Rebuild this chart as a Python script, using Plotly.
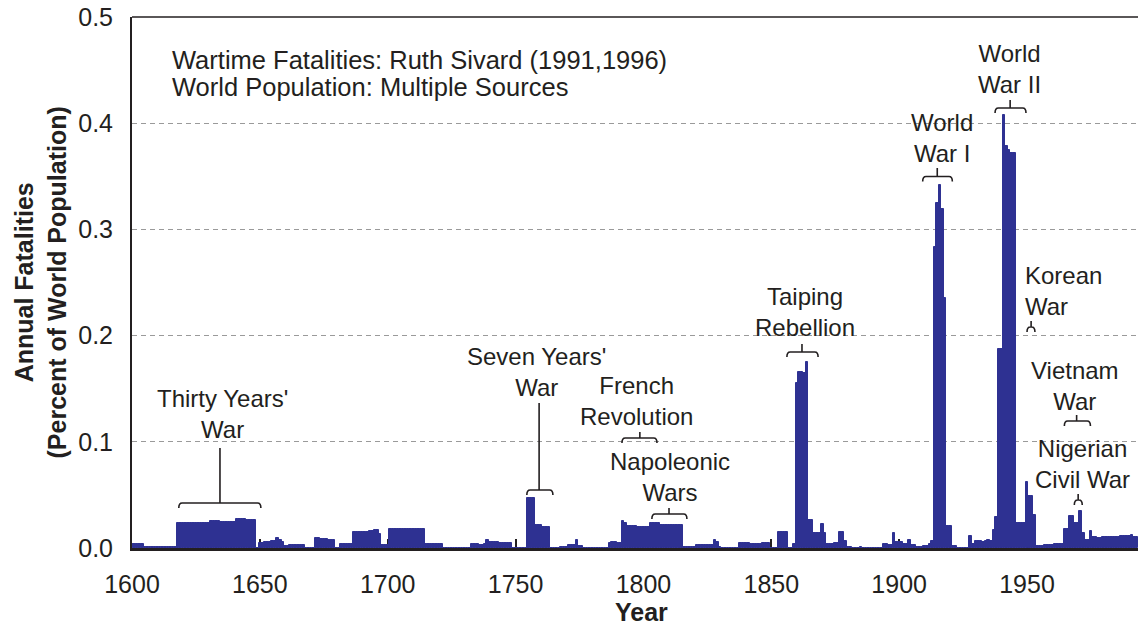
import plotly.graph_objects as go

# ---------------- data (percent of world population killed per year) ----------------
years = list(range(1600, 1994))

fatalities_1600s = [
    0.004, 0.004, 0.004, 0.004, 0.004, 0.001, 0.0008, 0.0008, 0.0008, 0.0008,
    0.0008, 0.0008, 0.0008, 0.0008, 0.0008, 0.0008, 0.0008, 0.0008, 0.024, 0.024,
    0.024, 0.024, 0.024, 0.024, 0.024, 0.024, 0.024, 0.024, 0.024, 0.024,
    0.024, 0.025, 0.025, 0.025, 0.025, 0.0245, 0.0245, 0.0245, 0.0245, 0.0245,
    0.0245, 0.027, 0.027, 0.027, 0.027, 0.026, 0.026, 0.026, 0.026, 0.0,
    0.005, 0.005, 0.006, 0.006, 0.006, 0.007, 0.007, 0.009, 0.008, 0.006,
    0.002, 0.002, 0.003, 0.003, 0.003, 0.003, 0.003, 0.003, 0.0, 0.0,
    0.0, 0.0, 0.009, 0.009, 0.0085, 0.0085, 0.0085, 0.008, 0.008, 0.008,
    0.0, 0.0, 0.004, 0.004, 0.004, 0.004, 0.004, 0.015, 0.015, 0.015,
    0.015, 0.015, 0.015, 0.016, 0.016, 0.017, 0.017, 0.0135, 0.003, 0.003,
]
fatalities_1700s = [
    0.003, 0.018, 0.018, 0.018, 0.018, 0.018, 0.0175, 0.0175, 0.0175, 0.0175,
    0.0175, 0.0175, 0.0175, 0.0175, 0.0175, 0.004, 0.004, 0.004, 0.004, 0.004,
    0.004, 0.004, 0.0, 0.0, 0.0, 0.0, 0.0, 0.0, 0.0, 0.0,
    0.0, 0.0, 0.0, 0.004, 0.004, 0.004, 0.003, 0.003, 0.004, 0.008,
    0.006, 0.006, 0.006, 0.006, 0.005, 0.005, 0.005, 0.005, 0.005, 0.0,
    0.0, 0.0, 0.0, 0.0, 0.0, 0.047, 0.047, 0.047, 0.022, 0.022,
    0.022, 0.020, 0.020, 0.020, 0.0, 0.0, 0.0, 0.0, 0.001, 0.001,
    0.001, 0.003, 0.003, 0.003, 0.008, 0.002, 0.002, 0.0, 0.0, 0.0,
    0.0, 0.0, 0.0, 0.0, 0.0, 0.0, 0.0, 0.005, 0.006, 0.006,
    0.005, 0.005, 0.025, 0.0235, 0.021, 0.021, 0.021, 0.021, 0.020, 0.020,
]
fatalities_1800s = [
    0.020, 0.020, 0.020, 0.024, 0.0235, 0.0235, 0.0235, 0.022, 0.022, 0.022,
    0.022, 0.022, 0.022, 0.022, 0.022, 0.022, 0.001, 0.001, 0.001, 0.001,
    0.001, 0.003, 0.003, 0.003, 0.003, 0.003, 0.003, 0.003, 0.008, 0.006,
    0.001, 0.0, 0.0, 0.0, 0.0, 0.0, 0.0, 0.0, 0.005, 0.005,
    0.005, 0.005, 0.004, 0.004, 0.004, 0.004, 0.004, 0.005, 0.005, 0.005,
    0.0, 0.0, 0.0, 0.0154, 0.0154, 0.0154, 0.0154, 0.0, 0.0, 0.004,
    0.155, 0.166, 0.166, 0.165, 0.175, 0.026, 0.026, 0.0145, 0.0145, 0.0145,
    0.023, 0.0145, 0.004, 0.004, 0.004, 0.005, 0.005, 0.015, 0.015, 0.007,
    0.001, 0.001, 0.0, 0.0, 0.0, 0.001, 0.0, 0.0, 0.0, 0.0,
    0.0, 0.0, 0.0, 0.0, 0.004, 0.004, 0.003, 0.003, 0.0145, 0.006,
]
fatalities_1900s = [
    0.006, 0.006, 0.004, 0.004, 0.008, 0.003, 0.003, 0.001, 0.001, 0.001,
    0.002, 0.002, 0.004, 0.007, 0.283, 0.325, 0.342, 0.319, 0.235, 0.021,
    0.021, 0.002, 0.002, 0.0, 0.0, 0.0, 0.0, 0.0, 0.011, 0.004,
    0.007, 0.007, 0.007, 0.006, 0.007, 0.008, 0.007, 0.017, 0.029, 0.187,
    0.187, 0.408, 0.379, 0.375, 0.372, 0.372, 0.024, 0.024, 0.024, 0.024,
    0.062, 0.049, 0.049, 0.031, 0.002, 0.002, 0.002, 0.003, 0.003, 0.003,
    0.003, 0.004, 0.004, 0.004, 0.004, 0.018, 0.018, 0.030, 0.030, 0.024,
    0.024, 0.035, 0.014, 0.008, 0.008, 0.016, 0.010, 0.010, 0.009, 0.009,
    0.010, 0.010, 0.010, 0.010, 0.010, 0.010, 0.010, 0.011, 0.011, 0.011,
    0.011, 0.012, 0.010, 0.010,
]
fatalities = fatalities_1600s + fatalities_1700s + fatalities_1800s + fatalities_1900s

x_tick_vals = [1600, 1650, 1700, 1750, 1800, 1850, 1900, 1950]
y_tick_vals = [0.0, 0.1, 0.2, 0.3, 0.4, 0.5]
y_tick_text = ["0.0", "0.1", "0.2", "0.3", "0.4", "0.5"]

# war labels: text, x (year), y (value), alignment
war_text = ["Thirty Years'<br>War", "Seven Years'<br>War", "French<br>Revolution",
            "Napoleonic<br>Wars", "Taiping<br>Rebellion", "World<br>War I",
            "World<br>War II", "Korean<br>War", "Vietnam<br>War", "Nigerian<br>Civil War"]
war_x = [1635.2, 1758.3, 1797.1, 1810.4, 1863.2, 1916.6, 1943.3, 1948.6, 1968.8, 1971.6]
war_y = [0.126, 0.166, 0.138, 0.0673, 0.222, 0.3865, 0.451, 0.242, 0.1525, 0.079]
war_align = ["center"] * 7 + ["left", "center", "center"]

# bracket spans for each war label
br_x0 = [1618.3, 1754.4, 1791.6, 1803.3, 1856.1, 1909.2, 1937.5, 1950.0, 1964.6, 1968.5]
br_x1 = [1650.4, 1764.6, 1805.3, 1817.0, 1868.3, 1920.8, 1949.6, 1953.1, 1974.8, 1971.6]
br_y = [0.0424, 0.0546, 0.1036, 0.032, 0.1846, 0.3498, 0.4143, 0.2081, 0.1196, 0.0452]
br_top = [0.0942, 0.1365, 0.1092, 0.0377, 0.192, 0.3578, 0.4218, 0.2137, 0.1252, 0.0508]
br_mid = [1634.4, 1759.2, 1798.6, 1810.0, 1862.0, 1914.9, 1943.4, 1951.6, 1969.4, 1970.0]

TEXT = "#231f20"
FONT = "Liberation Sans, Arial, Helvetica, sans-serif"
BAR = "#2e3192"

fig = go.Figure()
fig.add_trace(go.Bar(
    x=years, y=fatalities, width=1.0,
    marker=dict(color=BAR, line=dict(color=BAR, width=1.0)),
    hoverinfo="x+y", showlegend=False,
))

shapes = []
hook = 0.0047
for x0, x1, y, top, xm in zip(br_x0, br_x1, br_y, br_top, br_mid):
    dx = min(1.3, (x1 - x0) / 2)
    path = (f"M {x0},{y - hook} Q {x0},{y} {x0 + dx},{y} L {x1 - dx},{y} "
            f"Q {x1},{y} {x1},{y - hook} M {xm},{y} L {xm},{top}")
    shapes.append(dict(type="path", xref="x", yref="y", path=path,
                       line=dict(color=TEXT, width=1.6)))
# top frame line
shapes.append(dict(type="line", xref="paper", yref="paper", x0=0, x1=1, y0=1, y1=1,
                   line=dict(color=TEXT, width=1.6)))

annotations = []
for t, x, y, al in zip(war_text, war_x, war_y, war_align):
    annotations.append(dict(text=t, x=x, y=y, xref="x", yref="y", showarrow=False,
                            xanchor="left" if al == "left" else "center", yanchor="middle",
                            align=al, font=dict(size=24, color=TEXT, family=FONT)))

# source note
annotations.append(dict(text="Wartime Fatalities: Ruth Sivard (1991,1996)", x=0.0378, y=0.919,
                        xref="paper", yref="paper", showarrow=False, xanchor="left",
                        yanchor="middle", font=dict(size=25.5, color=TEXT, family=FONT)))
annotations.append(dict(text="World Population: Multiple Sources", x=0.0378, y=0.869,
                        xref="paper", yref="paper", showarrow=False, xanchor="left",
                        yanchor="middle", font=dict(size=25.5, color=TEXT, family=FONT)))
# axis titles
annotations.append(dict(text="<b>Annual Fatalities</b><br><b>(Percent of World Population)</b>",
                        x=-0.0905, y=0.5, xref="paper", yref="paper", showarrow=False,
                        textangle=-90, xanchor="center", yanchor="middle",
                        font=dict(size=25, color=TEXT, family=FONT)))
annotations.append(dict(text="<b>Year</b>", x=0.506, y=-0.1205, xref="paper", yref="paper",
                        showarrow=False, xanchor="center", yanchor="middle",
                        font=dict(size=25, color=TEXT, family=FONT)))

fig.update_layout(
    width=1138, height=630,
    margin=dict(l=132, r=0, t=17, b=82),
    paper_bgcolor="white", plot_bgcolor="white",
    bargap=0,
    font=dict(family=FONT, color=TEXT),
    shapes=shapes, annotations=annotations,
    xaxis=dict(range=[1600, 1993.4], tickvals=x_tick_vals, ticks="inside", ticklen=9,
               tickwidth=1.5, tickcolor=TEXT, showline=True, linewidth=3, linecolor=TEXT,
               showgrid=False, zeroline=False, layer="below traces",
               tickfont=dict(size=25, color=TEXT, family=FONT), ticklabelstandoff=12),
    yaxis=dict(range=[0, 0.5], tickvals=y_tick_vals, ticktext=y_tick_text, ticks="",
               showline=True, linewidth=2, linecolor=TEXT, showgrid=True,
               gridcolor="#9a9a9a", gridwidth=1, griddash="5px,4px", zeroline=False,
               tickfont=dict(size=25, color=TEXT, family=FONT), ticklabelstandoff=12),
)

fig.write_html("out.html", config={"displayModeBar": False},
               post_script="document.body.style.margin='0px';document.body.style.overflow='hidden';")
